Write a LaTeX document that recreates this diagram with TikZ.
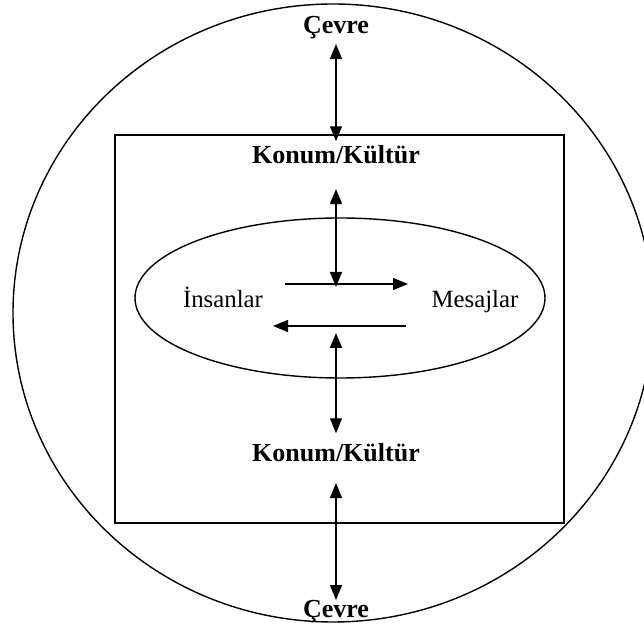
\documentclass[tikz,border=0pt]{standalone}
\usepackage{fontspec}
\setmainfont{Liberation Serif}
\usetikzlibrary{shapes.geometric,arrows.meta}

\tikzset{
  baslik/.style={font=\fontsize{13}{15}\selectfont\bfseries, inner sep=2pt, anchor=base},
  yazi/.style={font=\fontsize{12.4}{14}\selectfont, inner sep=2pt},
  ok/.style={{Triangle[length=7.5pt,width=6pt]}-{Triangle[length=7.5pt,width=6pt]}},
  tekok/.style={-{Triangle[length=7.5pt,width=6pt]}},
}

\begin{document}
\begin{tikzpicture}[x=0.5pt,y=-0.5pt,line width=0.7pt]
    \clip (0,0) rectangle (644,624);
    % dis cevre ve kutu
    \draw (333,313) ellipse [x radius=320, y radius=309];
    \draw (115,135) rectangle (564,523);
    \node (grup) [draw, ellipse, minimum width=205pt, minimum height=80pt] at (340,298) {};

    \node (cevreUst) [baslik] at (336,34) {Çevre};
    \node (konumUst) [baslik] at (336,164) {Konum/Kültür};
    \node (konumAlt) [baslik] at (336,462) {Konum/Kültür};
    \node (cevreAlt) [baslik] at (336,618) {Çevre};
    \node (insan) [yazi] at (223,297) {İnsanlar};
    \node (mesaj) [yazi] at (475,302) {Mesajlar};

    \coordinate (ustKesisim) at (336,287);
    \coordinate (altKesisim) at (336,333);
    \coordinate (sagBas) at (285,284);
    \coordinate (sagUc) at (408,284);
    \coordinate (solBas) at (406,326);
    \coordinate (solUc) at (273,326);

    \draw[ok] (cevreUst) -- (konumUst);
    \draw[ok, shorten <=10pt] (konumUst) -- (ustKesisim);
    \draw[tekok] (sagBas) -- (sagUc);
    \draw[tekok] (solBas) -- (solUc);
    \draw[ok, shorten >=3pt] (altKesisim) -- (konumAlt);
    \draw[ok, shorten <=8pt, shorten >=-2pt] (konumAlt) -- (cevreAlt);
\end{tikzpicture}
\end{document}
